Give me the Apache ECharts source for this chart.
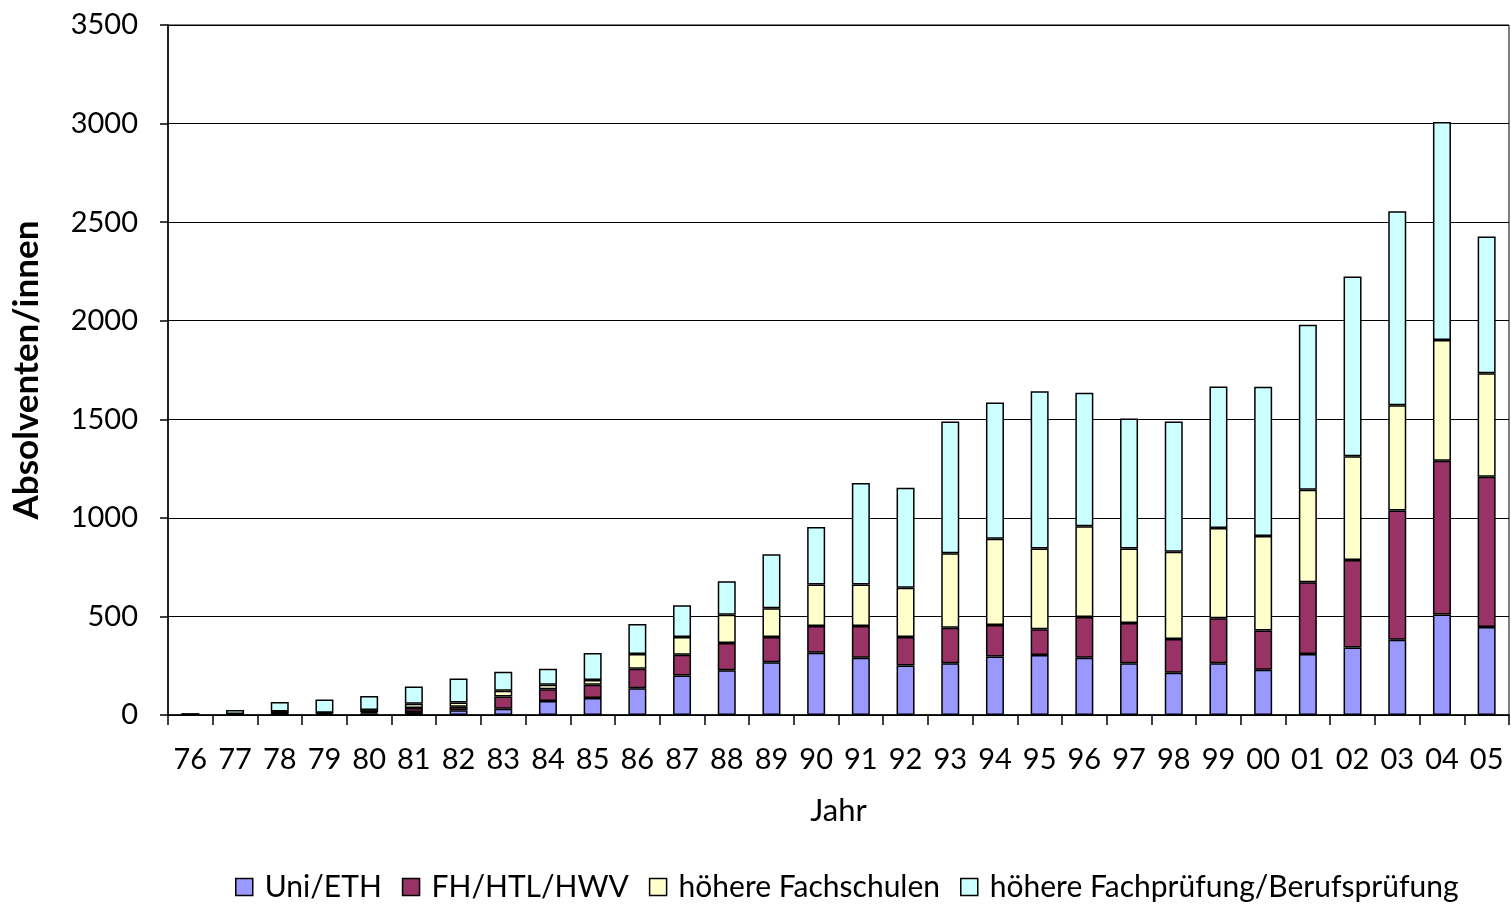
<!DOCTYPE html>
<html><head><meta charset="utf-8">
<script src="https://cdn.jsdelivr.net/npm/echarts@6/dist/echarts.min.js"></script>
<style>html,body{margin:0;padding:0;background:#fff}#c{width:1511px;height:907px}</style>
</head><body><div id="c"></div>
<script>
const years = ['76','77','78','79','80','81','82','83','84','85','86','87','88','89','90','91','92','93','94','95','96','97','98','99','00','01','02','03','04','05'];
const uniETH = [2,2,12,3,8,15,24,32,71,86,136,200,227,268,316,291,251,263,297,304,290,263,214,263,229,310,343,382,510,447];
const fhHtlHwv = [2,2,3,7,7,20,18,62,59,67,98,106,138,128,135,160,145,179,160,131,207,204,172,228,200,363,443,655,780,761];
const hoehereFachschulen = [0,1,3,2,10,22,22,29,23,24,76,90,143,146,211,211,250,378,437,410,461,378,442,458,479,470,526,534,612,525];
const fachpruefung = [1,20,48,67,71,88,121,96,81,138,151,161,170,273,291,515,507,669,691,797,676,659,661,717,757,837,912,984,1106,694];
const seriesNames = ['Uni/ETH','FH/HTL/HWV','höhere Fachschulen','höhere Fachprüfung/Berufsprüfung'];
const colors = ['#9999FF','#993366','#FFFFCC','#CCFFFF'];
const yTicks = {min:0,max:3500,interval:500};

const font = 'Lato, "Open Sans", sans-serif';
const chart = echarts.init(document.getElementById('c'));
const datasets = [uniETH, fhHtlHwv, hoehereFachschulen, fachpruefung];
chart.setOption({
  animation:false,
  textStyle:{fontFamily:font,color:'#000'},
  grid:{left:168,right:2,top:25,bottom:192,show:true,borderColor:'#000',borderWidth:1},
  legend:{
    bottom:0,left:230,icon:'rect',itemWidth:17,itemHeight:17,itemGap:20,
    textStyle:{fontSize:30,fontFamily:font,color:'#000',padding:[0,0,0,7]},
    itemStyle:{borderColor:'#000',borderWidth:1.5},
    data:seriesNames
  },
  xAxis:{
    type:'category',data:years,
    name:'Jahr',nameLocation:'middle',nameGap:80,
    nameTextStyle:{fontSize:31,fontFamily:font,color:'#000'},
    axisLine:{lineStyle:{color:'#000',width:1.5}},
    axisTick:{show:true,length:10,lineStyle:{color:'#000',width:1.5}},
    axisLabel:{fontSize:29,color:'#000',margin:30,interval:0}
  },
  yAxis:{
    type:'value',min:yTicks.min,max:yTicks.max,interval:yTicks.interval,
    name:'Absolventen/innen',nameLocation:'middle',nameGap:124,
    nameTextStyle:{fontSize:35,fontWeight:'bold',fontFamily:font,color:'#000'},
    axisLine:{show:true,lineStyle:{color:'#000',width:1.5}},
    axisTick:{show:true,length:8,lineStyle:{color:'#000',width:1.5}},
    axisLabel:{fontSize:29,color:'#000',margin:30,formatter:v=>String(v)},
    splitLine:{lineStyle:{color:'#000',width:1.2}}
  },
  series: datasets.map((d,i)=>({
    name:seriesNames[i],type:'bar',stack:'total',data:d,barWidth:18,
    itemStyle:{color:colors[i],borderColor:'#000',borderWidth:1.5}
  }))
});
</script></body></html>
